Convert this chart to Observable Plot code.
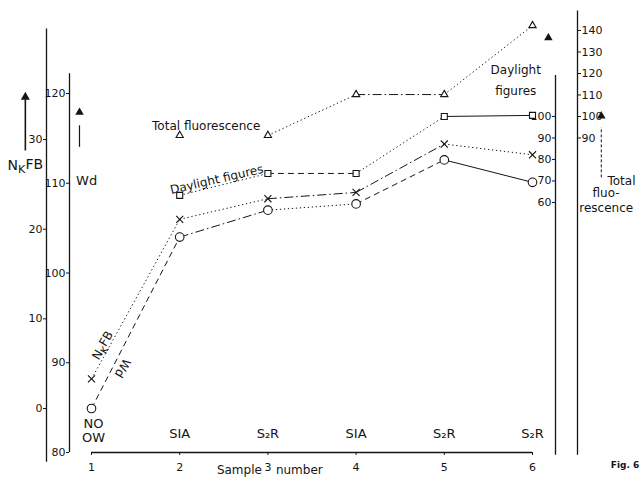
<!DOCTYPE html>
<html><head><meta charset="utf-8">
<script src="https://cdn.jsdelivr.net/npm/d3@7"></script>
<script src="https://cdn.jsdelivr.net/npm/@observablehq/plot@0.6"></script>
<style>
html,body{margin:0;padding:0;background:#fff;}
#chart svg{display:block;}
</style></head><body><div id="chart"></div>
<script>
// ---- data ----
const samples = [1, 2, 3, 4, 5, 6];
const sampleTypes = ["NO\nOW", "SIA", "S₂R", "SIA", "S₂R", "S₂R"];
const nkfb = [3.3, 21.1, 23.4, 24.1, 29.5, 28.3];          // left axis N_K FB
const wd = [84.9, 104.0, 107.0, 107.7, 112.6, 110.1];       // left axis Wd
const daylight = [null, 63.3, 73.5, 73.5, 100, 100.5];      // right axis Daylight figures
const totalFluor = [null, 91.2, 91.2, 110.2, 110.2, 142.3]; // right axis Total fluorescence

// tick labels
const nkfbTicks = [0, 10, 20, 30];
const wdTicks = [80, 90, 100, 110, 120];
const daylightTicks = [60, 70, 80, 90, 100];
const totalTicks = [90, 100, 110, 120, 130, 140];

// line style of each segment (between sample i and i+1)
const nkfbSeg = ["dot", "dot", "dashdot", "dashdot", "dot"];
const wdSeg = ["dash", "dashdot", "dot", "dash", "solid"];
const daylightSeg = [null, "dot", "dash", "dot", "solid"];
const totalSeg = [null, null, "dot", "dashdot", "dot"];
const dashes = {dot: "1.3,2.7", dash: "6,4", dashdot: "9,3,1.5,3", solid: null};

// ---- axis calibrations (all series are placed on the Wd scale) ----
const nk2wd = d3.scaleLinear([0, 30], [84.9, 114.87]);
const rt2wd = d3.scaleLinear([100, 140], [117.44, 127.02]);
const ident = d3.scaleLinear([0, 1], [0, 1]);

const series = [
  {name: "NKFB", vals: nkfb, conv: nk2wd, seg: nkfbSeg, symbol: "times", r: 3.3},
  {name: "Wd", vals: wd, conv: ident, seg: wdSeg, symbol: "circle", r: 4.3},
  {name: "Daylight", vals: daylight, conv: rt2wd, seg: daylightSeg, symbol: "square", r: 3.4},
  {name: "Total", vals: totalFluor, conv: rt2wd, seg: totalSeg, symbol: "triangle", r: 2.7}
];
const points = [], segments = [];
for (const s of series) {
  s.vals.forEach((v, i) => {
    if (v != null) points.push({series: s.name, sample: samples[i], y: s.conv(v)});
    if (i < s.vals.length - 1 && s.seg[i] && v != null && s.vals[i + 1] != null)
      segments.push({series: s.name, style: s.seg[i], x1: samples[i], y1: s.conv(v), x2: samples[i + 1], y2: s.conv(s.vals[i + 1])});
  });
}
const typeRows = samples.map((s, i) => ({sample: s, label: sampleTypes[i], lines: sampleTypes[i].split("\n").length}));

const ink = "#151515";
const font = "DejaVu Sans";

const marks = [];
// axis lines
marks.push(Plot.ruleX([samples[0]], {dx: -45, y1: 78.9, y2: 127.2, stroke: ink, strokeWidth: 1.3}));
marks.push(Plot.ruleX([samples[0]], {dx: -22, y1: 80, y2: 122.2, stroke: ink, strokeWidth: 1.3}));
marks.push(Plot.ruleX([samples[5]], {dx: 23, y1: 79.7, y2: 122.0, stroke: ink, strokeWidth: 1.3}));
marks.push(Plot.ruleX([samples[5]], {dx: 45, y1: 79.7, y2: 129.2, stroke: ink, strokeWidth: 1.3}));
marks.push(Plot.ruleY([80], {x1: samples[0], x2: samples[5], stroke: ink, strokeWidth: 1.3}));

// axes
marks.push(Plot.axisY(nkfbTicks.map(nk2wd), {anchor: "left", tickSize: 3, tickPadding: 1, fontSize: 11, stroke: ink, fill: ink, tickFormat: d => Math.round(nk2wd.invert(d))}));
marks.push(Plot.axisY(wdTicks, {anchor: "left", dx: 23, tickSize: 3, tickPadding: 1, fontSize: 11, stroke: ink, fill: ink, tickFormat: d => d}));
marks.push(Plot.axisY(daylightTicks.map(rt2wd), {anchor: "left", dx: 509, tickSize: 3, tickPadding: 1, fontSize: 11, stroke: ink, fill: ink, tickFormat: d => Math.round(rt2wd.invert(d))}));
marks.push(Plot.axisY(totalTicks.map(rt2wd), {anchor: "right", tickSize: 3, tickPadding: 1, fontSize: 11, stroke: ink, fill: ink, tickFormat: d => Math.round(rt2wd.invert(d))}));
marks.push(Plot.axisX(samples, {anchor: "bottom", tickSize: 3, tickPadding: 8, fontSize: 11, stroke: ink, fill: ink, tickFormat: d => d}));

// series lines
for (const st of Object.keys(dashes)) {
  marks.push(Plot.link(segments.filter(s => s.style === st), {
    x1: "x1", y1: "y1", x2: "x2", y2: "y2", stroke: ink, strokeWidth: 1,
    strokeDasharray: dashes[st] || undefined
  }));
}
// series markers
for (const s of series) {
  marks.push(Plot.dot(points.filter(p => p.series === s.name), {
    x: "sample", y: "y", symbol: s.symbol, r: s.r, stroke: ink, strokeWidth: 1.1, fill: "white"
  }));
}

// sample type labels above the x axis
marks.push(Plot.text(typeRows.filter(d => d.lines === 1), {x: "sample", text: "label", frameAnchor: "bottom", dy: -15, fontSize: 13, fill: ink}));
marks.push(Plot.text(typeRows.filter(d => d.lines > 1), {x: "sample", text: "label", frameAnchor: "bottom", dy: -11, dx: 2, fontSize: 13, lineHeight: 1.05, fill: ink}));
// x axis title
marks.push(Plot.text(["Sample"], {x: samples[2], frameAnchor: "bottom", dy: 21, dx: -6, textAnchor: "end", fontSize: 12, fill: ink}));
marks.push(Plot.text(["number"], {x: samples[2], frameAnchor: "bottom", dy: 21, dx: 8, textAnchor: "start", fontSize: 12, fill: ink}));

// in-plot annotations (positions in sample / Wd units)
marks.push(Plot.text(["Total fluorescence"], {x: 2.30, y: 116.4, fontSize: 12, fill: ink}));
marks.push(Plot.text(["Daylight figures"], {x: 2.42, y: 110.4, rotate: -13, fontSize: 12, fill: ink}));
marks.push(Plot.text(["NKFB"], {x: 1.13, y: 91.9, rotate: -60, fontSize: 12, fill: ink}));
marks.push(Plot.text(["Wd"], {x: 1.35, y: 89.4, rotate: 120, fontSize: 12, fill: ink}));

// axis titles
marks.push(Plot.text(["NKFB"], {x: 0.25, y: 112.0, fontSize: 14, fill: ink}));
marks.push(Plot.ruleX([0.25], {y1: 113.6, y2: 119.3, stroke: ink, strokeWidth: 1.6}));
marks.push(Plot.dot([0.25], {x: d => d, y: 119.6, symbol: "triangle", r: 2.4, fill: ink, stroke: ink}));
marks.push(Plot.text(["Wd"], {x: 0.945, y: 110.3, fontSize: 13, fill: ink}));
marks.push(Plot.ruleX([0.864], {y1: 114.0, y2: 116.4, stroke: ink, strokeWidth: 1.2}));
marks.push(Plot.dot([0.864], {x: d => d, y: 117.9, symbol: "triangle", r: 2.2, fill: ink, stroke: ink}));

marks.push(Plot.text(["Daylight"], {x: 5.81, y: 122.6, fontSize: 12, fill: ink}));
marks.push(Plot.text(["figures"], {x: 5.81, y: 120.3, fontSize: 12, fill: ink}));
marks.push(Plot.dot([6.18], {x: d => d, y: 126.2, symbol: "triangle", r: 2.2, fill: ink, stroke: ink}));

marks.push(Plot.text(["Total"], {x: 6.85, y: 110.2, textAnchor: "start", fontSize: 12, fill: ink}));
marks.push(Plot.text(["fluo-"], {x: 6.68, y: 108.9, textAnchor: "start", fontSize: 12, fill: ink}));
marks.push(Plot.text(["rescence"], {x: 6.53, y: 107.2, textAnchor: "start", fontSize: 12, fill: ink}));
marks.push(Plot.ruleX([6.78], {y1: 110.6, y2: 116.2, stroke: ink, strokeWidth: 1, strokeDasharray: "3,2"}));
marks.push(Plot.dot([6.78], {x: d => d, y: 117.5, symbol: "triangle", r: 2.2, fill: ink, stroke: ink}));

marks.push(Plot.text(["Fig. 6"], {x: 7.05, frameAnchor: "bottom", dy: 15, fontSize: 9, fontWeight: "bold", fill: ink}));

const svg = Plot.plot({
  width: 644, height: 479,
  marginLeft: 46, marginRight: 67, marginTop: 10, marginBottom: 27,
  style: {fontFamily: font, fontSize: "11px", background: "white", color: ink},
  x: {domain: [1, 6], range: [91, 532]},
  y: {domain: [78, 128], range: [469.95, 21.2]},
  marks
});

// subscript K in N_K FB
d3.select(svg).selectAll("text").each(function () {
  if (this.textContent === "NKFB") {
    const t = d3.select(this);
    t.text(null);
    t.append("tspan").text("N");
    t.append("tspan").attr("dy", "0.3em").attr("font-size", "0.8em").text("K");
    t.append("tspan").attr("dy", "-0.3em").text("FB");
  }
});
document.getElementById("chart").appendChild(svg);
</script></body></html>
